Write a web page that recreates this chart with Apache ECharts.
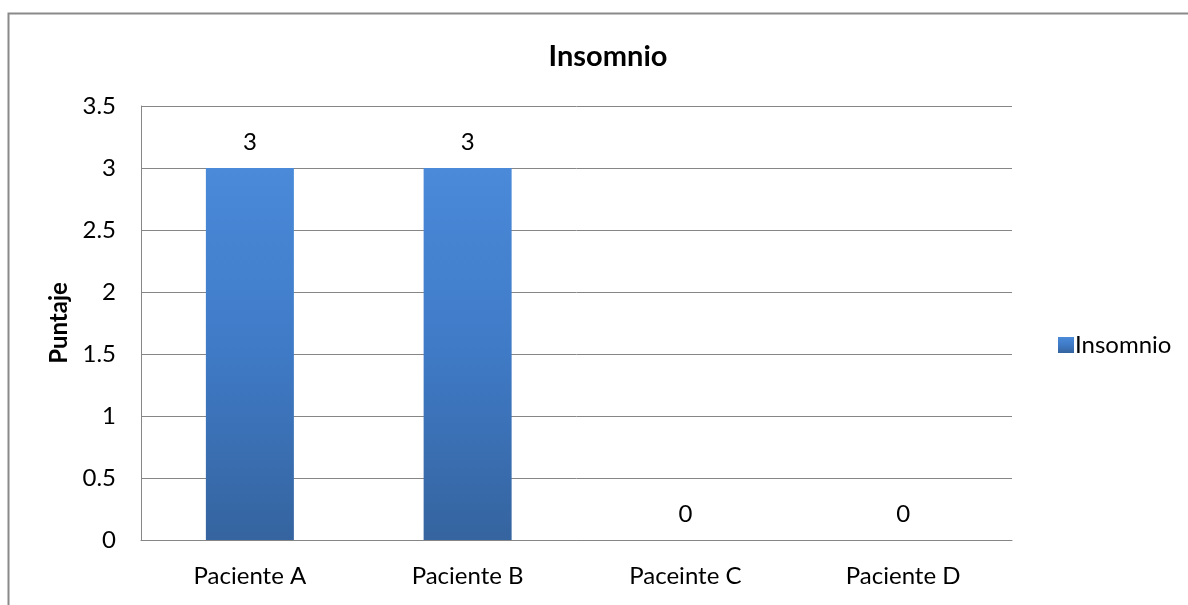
<!DOCTYPE html>
<html>
<head>
<meta charset="utf-8">
<script src="https://cdn.jsdelivr.net/npm/echarts@6/dist/echarts.min.js"></script>
<style>
  html, body { margin: 0; padding: 0; background: #fff; }
  #main { width: 1188px; height: 605px; }
</style>
</head>
<body>
<div id="main"></div>
<script>
var categories = ['Paciente A', 'Paciente B', 'Paceinte C', 'Paciente D']
var insomnio = [3, 3, 0, 0]
var yTicks = { min: 0, max: 3.5, interval: 0.5 }

var chart = echarts.init(document.getElementById('main'))
var font = 'Lato, "Open Sans", sans-serif'

var option = {
  textStyle: { fontFamily: font },
  title: {
    text: 'Insomnio',
    left: 603,
    top: 37,
    textAlign: 'center',
    textStyle: { fontFamily: font, fontSize: 29, fontWeight: 'bold', color: '#000' }
  },
  legend: {
    data: ['Insomnio'],
    left: 1053,
    top: 328,
    itemWidth: 16,
    itemHeight: 16,
    itemGap: 6,
    icon: 'rect',
    textStyle: { fontFamily: font, fontSize: 24, color: '#000', padding: [0, 0, 0, -4] }
  },
  grid: { left: 141, right: 176, top: 106, bottom: 65 },
  graphic: [
    {
      type: 'rect',
      shape: { x: 8.5, y: 13.5, width: 1300, height: 800 },
      style: { fill: 'none', stroke: '#8a8a8a', lineWidth: 2 },
      silent: true,
      z: -1
    }
  ],
  xAxis: {
    type: 'category',
    data: categories,
    axisLine: { lineStyle: { color: '#868686', width: 1 } },
    axisTick: { show: false },
    axisLabel: { color: '#000', fontSize: 24, fontFamily: font, margin: 24 }
  },
  yAxis: {
    type: 'value',
    min: yTicks.min,
    max: yTicks.max,
    interval: yTicks.interval,
    name: 'Puntaje',
    nameLocation: 'middle',
    nameGap: 70,
    nameTextStyle: { color: '#000', fontSize: 24, fontWeight: 'bold', fontFamily: font },
    axisLine: { show: true, lineStyle: { color: '#868686' } },
    axisTick: { show: true, length: 5, inside: true, lineStyle: { color: '#868686' } },
    axisLabel: { color: '#000', fontSize: 24, fontFamily: font, margin: 25,
      formatter: function (v) { return String(v) } },
    splitLine: { lineStyle: { color: '#868686', width: 1 } }
  },
  series: [
    {
      name: 'Insomnio',
      type: 'bar',
      data: insomnio,
      barWidth: 88,
      itemStyle: {
        color: new echarts.graphic.LinearGradient(0, 0, 0, 1, [
          { offset: 0, color: '#4a8ad9' },
          { offset: 0.5, color: '#3f7ac6' },
          { offset: 1, color: '#35649f' }
        ]),
        borderWidth: 0
      },
      label: {
        show: true,
        position: 'top',
        distance: 14,
        color: '#000',
        fontSize: 24,
        fontFamily: font
      }
    }
  ]
}

chart.setOption(option)
</script>
</body>
</html>
